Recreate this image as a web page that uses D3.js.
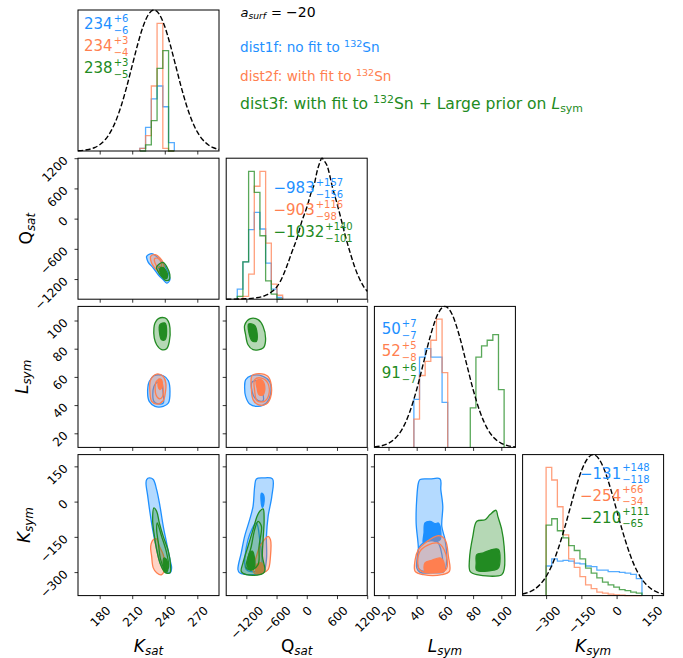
<!DOCTYPE html>
<html>
<head>
<meta charset="utf-8">
<script src="https://cdn.jsdelivr.net/npm/d3@7"></script>
<style>
  body { margin: 0; background: #fff; }
  svg { font-family: "DejaVu Sans", "Liberation Sans", sans-serif; }
</style>
</head>
<body>
<svg id="chart" width="683" height="658"></svg>
<script>
// ---------------- data ----------------
const seriesOrder = ["dist1f", "dist2f", "dist3f"];
const seriesColors = { dist1f: "#1e90ff", dist2f: "#ff7f50", dist3f: "#228b22" };

// parameter ranges and ticks
const kSatDomain = [160, 290], kSatTicks = [180, 210, 240, 270];
const qSatDomain = [-1600, 1200], qSatTicks = [-1200, -600, 0, 600, 1200];
const lSymDomain = [10, 110], lSymTicks = [20, 40, 60, 80, 100];
const kSymDomain = [-400, 200], kSymTicks = [-300, -150, 0, 150];

// marginal histograms (bin edges + normalised heights)
const kSatEdges = [217, 222.3, 227.6, 232.9, 238.2, 243.5, 248.8];
const kSatHist = {
  dist1f: [0.019, 0.168, 0.369, 0.461, 0.314, 0.059],
  dist2f: [0.019, 0.109, 0.461, 0.905, 0.019, 0],
  dist3f: [0, 0.043, 0.215, 0.586, 0.712, 0]
};
const qSatEdges = [-1380, -1268, -1155, -1042, -930, -817, -704, -592, -479];
const qSatHist = {
  dist1f: [0.071, 0.265, 0.493, 0.616, 0.498, 0.256, 0.071, 0.012],
  dist2f: [0, 0.02, 0.178, 0.801, 0.907, 0.398, 0.107, 0.028],
  dist3f: [0.02, 0.265, 0.907, 0.758, 0.45, 0.13, 0.036, 0]
};
const lSymEdgesLow = [38, 42, 46, 50, 54, 58, 62];
const lSymEdgesHigh = [78, 82, 86, 90, 94, 98, 102];
const lSymHist = {
  dist1f: [0.34, 0.64, 0.70, 0.64, 0.64, 0.32],
  dist2f: [0.20, 0.51, 0.61, 0.76, 0.91, 0.53],
  dist3f: [0.28, 0.64, 0.72, 0.76, 0.80, 0.41]
};
const kSymEdges = [-300, -276, -252, -228, -204, -180, -156, -132, -108, -84, -60, -36, -12, 12, 36, 60, 84, 108];
const kSymHist = {
  dist1f: [0.21, 0.26, 0.245, 0.25, 0.245, 0.23, 0.225, 0.21, 0.205, 0.18, 0.18, 0.17, 0.17, 0.165, 0.16, 0.15, 0.12],
  dist2f: [0.91, 0.82, 0.63, 0.43, 0.26, 0.20, 0.135, 0.076, 0.05, 0.024, 0.017, 0.01, 0.005, 0.003, 0, 0, 0],
  dist3f: [0.50, 0.545, 0.46, 0.41, 0.355, 0.32, 0.26, 0.195, 0.16, 0.126, 0.095, 0.076, 0.06, 0.043, 0.035, 0.024, 0.017]
};

// prior curves (dashed)
const kSatPrior = [[160,0.002],[165,0.005],[170,0.011],[175,0.023],[180,0.044],[185,0.080],[190,0.135],[195,0.216],[200,0.325],[205,0.458],[210,0.607],[215,0.755],[220,0.883],[225,0.969],[230,1],[235,0.969],[240,0.883],[245,0.755],[250,0.607],[255,0.458],[260,0.325],[265,0.216],[270,0.135],[275,0.080],[280,0.044],[285,0.023],[290,0.011]];
const qSatPrior = [[-1600,0],[-1300,0.002],[-1000,0.01],[-800,0.03],[-720,0.047],[-600,0.085],[-520,0.13],[-400,0.23],[-300,0.33],[-187,0.44],[-100,0.55],[0,0.65],[100,0.77],[153,0.82],[200,0.9],[250,0.96],[300,1],[350,0.98],[400,0.95],[520,0.78],[600,0.68],[687,0.56],[750,0.47],[853,0.34],[950,0.23],[1053,0.14],[1130,0.09],[1200,0.055]];
const lSymPrior = [[10,0.004],[15,0.011],[20,0.029],[25,0.066],[30,0.135],[35,0.249],[40,0.411],[45,0.607],[50,0.801],[55,0.946],[60,1],[65,0.946],[70,0.801],[75,0.607],[80,0.411],[85,0.249],[90,0.135],[95,0.066],[100,0.029],[105,0.011],[110,0.004]];
const kSymPrior = [[-400,0.011],[-375,0.023],[-350,0.044],[-325,0.080],[-300,0.135],[-275,0.216],[-250,0.325],[-225,0.458],[-200,0.607],[-175,0.755],[-150,0.883],[-125,0.969],[-100,1],[-75,0.969],[-50,0.883],[-25,0.755],[0,0.607],[25,0.458],[50,0.325],[75,0.216],[100,0.135],[125,0.080],[150,0.044],[175,0.023],[200,0.011]];

// medians with upper / lower errors
const kSatStats = [["234", "+6", "−6"], ["234", "+3", "−4"], ["238", "+3", "−5"]];
const qSatStats = [["−983", "+157", "−156"], ["−903", "+116", "−98"], ["−1032", "+140", "−101"]];
const lSymStats = [["50", "+7", "−7"], ["52", "+5", "−8"], ["91", "+6", "−7"]];
const kSymStats = [["−131", "+148", "−118"], ["−254", "+66", "−34"], ["−210", "+111", "−65"]];

// 2D credible-region outlines: outer level, inner level line, and core
const contQsatKsat = {
  dist1f: { outer: [[223.3,-748],[227.9,-694],[233.1,-760],[238.6,-894],[243.2,-1068],[244.7,-1215],[241.7,-1280],[238.6,-1215],[234,-1114],[229.4,-980],[224.8,-868],[223.3,-780]],
            core: [[235.6,-950],[237,-980],[235.6,-1010],[234.2,-980]] },
  dist2f: { outer: [[227,-748],[231,-714],[235.6,-780],[238.6,-880],[239.2,-980],[237.1,-1047],[233.4,-1034],[230,-960],[227.6,-868]],
            mid: [[230.5,-800],[234,-790],[236.8,-880],[236.5,-960],[233.5,-960],[231,-880]] },
  dist3f: { outer: [[232.4,-960],[238.3,-868],[242,-960],[244.7,-1114],[244.1,-1214],[240.8,-1228],[236.5,-1134],[233.7,-1047]],
            core: [[235.6,-990],[238.6,-975],[242.3,-1090],[241.7,-1190],[238.6,-1165],[235.8,-1070]] }
};
const contLsymKsat = {
  dist1f: { outer: [[225.7,56.8],[230,60.8],[238.6,60.8],[243.3,57.3],[244.8,49.7],[243.3,41.5],[238.6,39.1],[231,39.1],[225.7,42.6],[224.2,48.5]],
            mid: [[230,53.2],[234.1,56.3],[237.1,54.4],[238.6,47.3],[238.6,41.5],[234.1,40.8],[230,42.6]] },
  dist2f: { outer: [[227,58],[232.5,62],[238.6,60.3],[241,55.6],[240.2,47.3],[238.6,43.1],[232.5,40.7],[227.9,42.6],[226.4,48.5]],
            mid: [[231.9,56.3],[235,58],[238,54.4],[238,46.1],[235,44.5],[231.9,47.3]],
            core: [[234.4,58.5],[237,58],[237.5,53],[235.5,51],[234,53]] },
  dist3f: { outer: [[231,98.2],[234.1,101.3],[240.2,101.8],[243.3,99.4],[244.8,94.7],[244.2,85.2],[241.7,80],[237.1,79.3],[232.5,82.8],[230.3,87.6],[230,94.7]],
            core: [[235.5,97],[240.2,98.2],[241.7,92.3],[240.2,86.4],[237.1,86.4],[235.2,91.1]] }
};
const contLsymQsat = {
  dist1f: { outer: [[-1214,58],[-1101,60.9],[-867,60.4],[-734,56.4],[-721,47.4],[-801,41.5],[-967,39.1],[-1134,40.8],[-1214,46.2],[-1234,52.1]],
            mid: [[-1087,56.4],[-967,56.9],[-881,49.8],[-867,43.2],[-967,43.2],[-1067,47.4]] },
  dist2f: { outer: [[-1087,60.9],[-940,62.3],[-774,60.4],[-707,54.5],[-721,45.1],[-801,40.8],[-967,40.3],[-1067,43.9],[-1101,52.1]],
            mid: [[-1034,58],[-901,59.2],[-774,55.7],[-754,47.4],[-841,42.7],[-987,43.1],[-1034,49.8]],
            core: [[-1001,57.3],[-901,58],[-834,53.3],[-867,47.4],[-947,47.4],[-987,52.1]] },
  dist3f: { outer: [[-1234,96.5],[-1121,101.3],[-967,100.6],[-867,95.8],[-820,85.2],[-867,80.5],[-1067,79.3],[-1167,82.8],[-1214,89.9]],
            core: [[-1154,97.5],[-1034,96.5],[-987,91.1],[-1001,85.2],[-1087,85.7],[-1147,91.1]] }
};
const contKsymKsat = {
  dist1f: { outer: [[223.3,94],[225.8,100.7],[229.4,94],[232.5,51],[235.6,-20],[238.6,-105],[241.7,-176],[244.8,-247],[246.3,-282],[244.8,-303],[240.2,-297],[235.6,-261],[232.5,-204],[229.4,-133],[226.4,-48],[224.3,23],[222.7,79]] },
  dist2f: { outer: [[229.4,-162],[232.5,-159],[235,-190],[238.6,-226],[240.2,-275],[237.1,-311],[232.5,-303],[229.4,-282],[227.9,-233],[227,-190]] },
  dist3f: { outer: [[230,-27],[232.5,-41],[235,-91],[238.6,-148],[243.3,-211],[245.4,-275],[244.8,-303],[240.2,-301],[235.6,-261],[232.5,-204],[230,-133],[228.8,-77]],
            mid: [[233.1,-91],[237.1,-148],[241.7,-218],[243.3,-282],[240.2,-289],[236.2,-247],[234.1,-176],[232.5,-119]],
            core: [[239.2,-240],[241.7,-247],[242.3,-297],[239.8,-297]] }
};
const contKsymQsat = {
  dist1f: { outer: [[-1001,96.5],[-867,100.7],[-681,96.5],[-694,23],[-767,-62],[-801,-148],[-801,-247],[-867,-303],[-1067,-311],[-1334,-303],[-1367,-289],[-1301,-218],[-1234,-148],[-1134,-77],[-1067,-20],[-1034,65]],
            mid: [[-1167,-162],[-1001,-91],[-934,-162],[-901,-275],[-1001,-297],[-1201,-289]],
            core: [[-901,35],[-861,30],[-854,-10],[-881,-25],[-908,5]] },
  dist2f: { outer: [[-867,-169],[-767,-148],[-721,-162],[-721,-233],[-767,-289],[-867,-303],[-1034,-306],[-1067,-282],[-1001,-233],[-934,-190]],
            core: [[-1001,-268],[-901,-261],[-854,-282],[-881,-301],[-1001,-303]] },
  dist3f: { outer: [[-934,-41],[-867,-31],[-847,-77],[-867,-162],[-881,-233],[-834,-297],[-934,-311],[-1201,-311],[-1301,-297],[-1267,-261],[-1167,-190],[-1067,-119],[-987,-62]],
            mid: [[-967,-84],[-901,-105],[-947,-190],[-967,-268],[-1101,-289],[-1201,-282],[-1101,-190],[-1034,-119]],
            core: [[-1134,-218],[-1081,-211],[-1034,-275],[-1101,-292],[-1167,-282]] }
};
const contKsymLsym = {
  dist1f: { outer: [[42.4,94],[49.5,96.5],[56.6,96.5],[57.1,51],[58.5,-20],[57.8,-105],[60.1,-162],[61.3,-247],[59.4,-297],[51.9,-303],[42.4,-301],[40,-282],[41.2,-204],[39.6,-91],[40,9],[41.2,79]],
            mid: [[41.2,-204],[44.7,-176],[54.2,-169],[57.1,-204],[57.8,-289],[51.9,-297],[41.9,-289]],
            core: [[45.9,-91],[49.5,-84],[53,-94],[55.4,-91],[56.6,-105],[56.6,-162],[54.2,-169],[48.3,-162],[44.7,-176],[45.2,-133]] },
  dist2f: { outer: [[41.2,-204],[45.9,-176],[55.4,-145],[60.1,-162],[62.5,-233],[63.2,-297],[57.8,-311],[44.8,-311],[38.9,-297],[38.9,-247]],
            mid: [[42.4,-211],[54.2,-176],[59.4,-204],[60.8,-289],[42.4,-292]],
            core: [[45.9,-261],[50.7,-250],[56.6,-240],[59,-254],[59.4,-297],[54.2,-301],[45.9,-297]] },
  dist3f: { outer: [[82.6,-84],[88.5,-77],[92,-55],[96.3,-37],[97.5,-62],[100.3,-119],[102,-190],[102.2,-282],[100.3,-311],[82.6,-311],[77.9,-297],[77.4,-247],[79.8,-148]],
            core: [[82.6,-226],[87.4,-218],[93.3,-204],[98,-204],[98,-282],[94.5,-292],[82.6,-292],[82.2,-261]] }
};

// ---------------- layout ----------------
const svg = d3.select("#chart");
const plotLeft = 78, plotTop = 10, cell = 141, pitch = 148.2;
const colX = i => plotLeft + i * pitch;
const rowY = j => plotTop + j * pitch;
const tickFont = 12;

const domains = [kSatDomain, qSatDomain, lSymDomain, kSymDomain];
const ticks = [kSatTicks, qSatTicks, lSymTicks, kSymTicks];
const hists = [
  [{ edges: kSatEdges, h: kSatHist }],
  [{ edges: qSatEdges, h: qSatHist }],
  [{ edges: lSymEdgesLow, h: { dist1f: lSymHist.dist1f, dist2f: lSymHist.dist2f } },
   { edges: lSymEdgesHigh, h: { dist3f: lSymHist.dist3f } }],
  [{ edges: kSymEdges, h: kSymHist }]
];
const priors = [kSatPrior, qSatPrior, lSymPrior, kSymPrior];
const stats = [kSatStats, qSatStats, lSymStats, kSymStats];
const statPos = [[6, 19.3], [47.3, 35.1], [7.3, 27.9], [57.4, 24]];
const contours = { "1,0": contQsatKsat, "2,0": contLsymKsat, "2,1": contLsymQsat,
                   "3,0": contKsymKsat, "3,1": contKsymQsat, "3,2": contKsymLsym };
const labels = [
  { main: "K", sub: "sat", italic: true },
  { main: "Q", sub: "sat", italic: false },
  { main: "L", sub: "sym", italic: true },
  { main: "K", sub: "sym", italic: true }
];

const xScales = domains.map((d, i) => d3.scaleLinear().domain(d).range([colX(i), colX(i) + cell]));
const yScales = domains.map((d, j) => d3.scaleLinear().domain(d).range([rowY(j) + cell, rowY(j)]));
const diagY = domains.map((d, j) => d3.scaleLinear().domain([0, 1]).range([rowY(j) + cell, rowY(j)]));

const fmt = v => (v < 0 ? "−" + Math.abs(v) : String(v));

// ---------------- 2D panels ----------------
Object.entries(contours).forEach(([key, cont]) => {
  const [row, col] = key.split(",").map(Number);
  const xs = xScales[col], ys = yScales[row];
  const g = svg.append("g");
  const path = d3.line().x(d => xs(d[0])).y(d => ys(d[1])).curve(d3.curveCatmullRomClosed.alpha(0.5));
  seriesOrder.forEach(s => {
    const c = cont[s];
    if (!c) return;
    const col_ = seriesColors[s];
    g.append("path").attr("d", path(c.outer)).attr("fill", col_).attr("fill-opacity", 1 / 3).attr("stroke", "none");
    if (c.core) g.append("path").attr("d", path(c.core)).attr("fill", col_).attr("stroke", "none");
    ["outer", "mid", "core"].forEach(k => {
      if (c[k]) g.append("path").attr("d", path(c[k])).attr("fill", "none")
        .attr("stroke", col_).attr("stroke-width", 1.3).attr("stroke-linejoin", "round");
    });
  });
});

// ---------------- diagonal panels ----------------
for (let i = 0; i < 4; i++) {
  const xs = xScales[i], ys = diagY[i];
  const g = svg.append("g");
  const line = d3.line().x(d => xs(d[0])).y(d => ys(d[1]));
  hists[i].forEach(block => {
    seriesOrder.forEach(s => {
      const vals = block.h[s];
      if (!vals) return;
      const pts = [[block.edges[0], 0]];
      vals.forEach((v, k) => { pts.push([block.edges[k], v]); pts.push([block.edges[k + 1], v]); });
      pts.push([block.edges[vals.length], 0]);
      g.append("path").attr("d", line(pts)).attr("fill", "none")
        .attr("stroke", seriesColors[s]).attr("stroke-opacity", 0.75).attr("stroke-width", 1.3);
    });
  });
  g.append("path").attr("d", line.curve(d3.curveMonotoneX)(priors[i]))
    .attr("fill", "none").attr("stroke", "#000").attr("stroke-width", 1.4)
    .attr("stroke-dasharray", "5.2,2.3");

  // median labels: value with stacked upper / lower errors
  const [dx, dy] = statPos[i];
  stats[i].forEach((st, k) => {
    const x = colX(i) + dx, y = rowY(i) + dy + k * 22;
    const col_ = seriesColors[seriesOrder[k]];
    const t = g.append("text").attr("x", x).attr("y", y).style("fill", col_)
      .style("font-size", "15px").text(st[0]);
    const w = t.node().getComputedTextLength();
    g.append("text").attr("x", x + w + 1).attr("y", y - 7.3).style("fill", col_)
      .style("font-size", "10px").text(st[1]);
    g.append("text").attr("x", x + w + 1).attr("y", y + 4.6).style("fill", col_)
      .style("font-size", "10px").text(st[2]);
  });
}

// ---------------- frames and axes ----------------
function styleAxis(g) {
  g.attr("font-family", null).attr("font-size", null).attr("fill", null);
  g.select(".domain").remove();
  g.selectAll(".tick line").attr("stroke", "#000").attr("stroke-width", 0.8);
  g.selectAll(".tick text").attr("fill", null).style("fill", "#000").style("font-size", tickFont + "px");
}

for (let row = 0; row < 4; row++) {
  for (let col = 0; col <= row; col++) {
    svg.append("rect").attr("x", colX(col)).attr("y", rowY(row))
      .attr("width", cell).attr("height", cell)
      .attr("fill", "none").attr("stroke", "#000").attr("stroke-width", 1);

    const bottom = svg.append("g").attr("transform", `translate(0,${rowY(row) + cell})`)
      .call(d3.axisBottom(xScales[col]).tickValues(ticks[col]).tickSize(3.5).tickSizeOuter(0)
        .tickFormat(row === 3 ? fmt : ""));
    styleAxis(bottom);
    if (row === 3) {
      bottom.selectAll(".tick text").each(function () {
        const w = this.getComputedTextLength();
        const cy = 9.5 + (w + 0.73 * tickFont) / (2 * Math.SQRT2);
        d3.select(this).attr("x", 0).attr("y", cy).attr("dy", "0.36em")
          .attr("text-anchor", "middle").attr("transform", `rotate(-45,0,${cy})`);
      });
    }
    if (col < row) {
      const left = svg.append("g").attr("transform", `translate(${colX(col)},0)`)
        .call(d3.axisLeft(yScales[row]).tickValues(ticks[row]).tickSize(3.5).tickSizeOuter(0)
          .tickFormat(col === 0 ? fmt : ""));
      styleAxis(left);
      if (col === 0) {
        left.selectAll(".tick text").attr("x", -12.5).attr("y", -0.5).attr("dy", "0.36em")
          .attr("text-anchor", "end").attr("transform", "rotate(-45,-12.5,-0.5)");
      }
    }
  }
}

// axis titles
function axisTitle(sel, lab, size) {
  const t = sel.append("text").attr("text-anchor", "middle").style("fill", "#000")
    .style("font-size", size + "px");
  t.append("tspan").style("font-style", lab.italic ? "italic" : "normal").text(lab.main);
  t.append("tspan").style("font-style", "italic").style("font-size", (size * 0.7) + "px")
    .attr("dy", 3).text(lab.sub);
  return t;
}
for (let i = 0; i < 4; i++) {
  axisTitle(svg.append("g").attr("transform", `translate(${colX(i) + cell / 2},652)`), labels[i], 17);
}
const yTitleX = [null, 32, 28, 30];
for (let j = 1; j < 4; j++) {
  axisTitle(svg.append("g").attr("transform", `translate(${yTitleX[j]},${rowY(j) + cell / 2}) rotate(-90)`), labels[j], 17);
}

// ---------------- header text ----------------
const head = svg.append("g");
const title = head.append("text").attr("x", 240.5).attr("y", 16.7).style("fill", "#000").style("font-size", "13px");
title.append("tspan").style("font-style", "italic").text("a");
title.append("tspan").style("font-style", "italic").style("font-size", "9.2px").attr("dy", 2.5).text("surf");
title.append("tspan").attr("x", 271).attr("dy", -2.5).text("=");
title.append("tspan").attr("x", 286).style("font-size", "14px").text("−20");

function legendLine(y, size, color, parts) {
  const t = head.append("text").attr("x", 240).attr("y", y).style("fill", color).style("font-size", size + "px");
  let shift = 0;
  parts.forEach(p => {
    const span = t.append("tspan").text(p.text);
    const target = p.sup ? -0.38 * size : p.sub ? 0.22 * size : 0;
    if (target !== shift) { span.attr("dy", target - shift); shift = target; }
    if (p.sup || p.sub) span.style("font-size", (size * 0.7) + "px");
    if (p.italic) span.style("font-style", "italic");
  });
}
legendLine(52.3, 13.6, seriesColors.dist1f, [{ text: "dist1f: no fit to " }, { text: "132", sup: true }, { text: "Sn" }]);
legendLine(80.7, 13.6, seriesColors.dist2f, [{ text: "dist2f: with fit to " }, { text: "132", sup: true }, { text: "Sn" }]);
legendLine(109, 15.6, seriesColors.dist3f, [{ text: "dist3f: with fit to " }, { text: "132", sup: true },
  { text: "Sn + Large prior on " }, { text: "L", italic: true }, { text: "sym", sub: true }]);
</script>
</body>
</html>
